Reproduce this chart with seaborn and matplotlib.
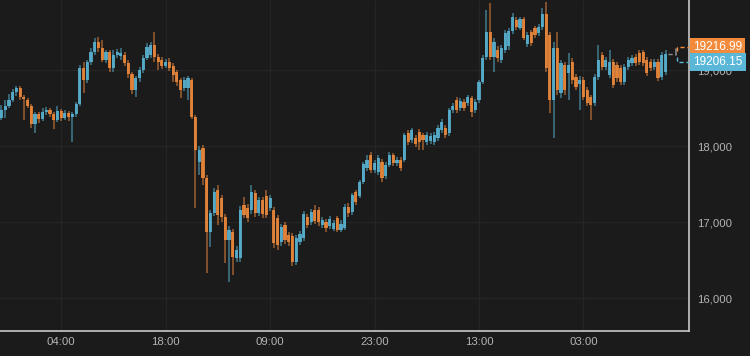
import numpy as np
import pandas as pd
import matplotlib
matplotlib.use("Agg")
import matplotlib.pyplot as plt
import matplotlib.ticker as mticker
import seaborn as sns

# 30 minute candles
opens = [
    18368, 18473, 18526, 18605, 18710, 18763, 18644, 18605, 18526, 18289,
    18421, 18355, 18447, 18473, 18421, 18342, 18460, 18368, 18434, 18381,
    18421, 18552, 19026, 18868, 19105, 19237, 19368, 19289, 19131, 19237,
    19026, 19197, 19184, 19197, 19092, 18947, 18737, 18895, 19000, 19158,
    19197, 19329, 19171, 19131, 19052, 19105, 19052, 18973, 18868, 18763,
    18763, 18868, 18381, 17789, 17973, 17579, 16868, 17118, 17421, 17315,
    17065, 16763, 16868, 16526, 16526, 17223, 17184, 17157, 17381, 17118,
    17289, 17342, 17184, 17157, 17052, 16736, 16960, 16828, 16815, 16473,
    16736, 16789, 17065, 17000, 17157, 17157, 16960, 17000, 16947, 16907,
    17052, 16894, 16921, 17197, 17131, 17394, 17342, 17526, 17710, 17881,
    17684, 17658, 17789, 17605, 17750, 17881, 17776, 17815, 17815, 18171,
    18079, 18105, 18184, 18144, 18052, 18066, 18052, 18105, 18210, 18237,
    18171, 18473, 18605, 18500, 18579, 18566, 18631, 18473, 18605, 18842,
    19171, 19500, 19171, 19263, 19131, 19263, 19316, 19513, 19658, 19553,
    19671, 19342, 19500, 19553, 19487, 19566, 19737, 19460, 18605, 19289,
    18697, 19066, 18960, 19105, 18908, 18816, 18868, 18737, 18644, 18566,
    18908, 19197, 19039, 18934, 19105, 19066, 19026, 18842, 19039, 19092,
    19171, 19223, 19237, 19131, 19105, 19039, 19105, 18908, 18973,
]
closes = [
    18473, 18526, 18605, 18710, 18763, 18644, 18618, 18526, 18289, 18421,
    18355, 18447, 18473, 18421, 18342, 18460, 18368, 18434, 18381, 18421,
    18552, 19026, 18868, 19105, 19237, 19368, 19289, 19131, 19237, 19026,
    19197, 19237, 19223, 19092, 18947, 18737, 18895, 19000, 19158, 19302,
    19329, 19171, 19105, 19052, 19105, 19026, 18934, 18842, 18737, 18868,
    18895, 18381, 17947, 17947, 17579, 16868, 17118, 17394, 17092, 17065,
    16763, 16894, 16539, 16631, 17157, 17092, 17052, 17394, 17118, 17289,
    17105, 17092, 17315, 16723, 16697, 16934, 16763, 16736, 16473, 16789,
    16842, 17105, 16960, 17131, 17013, 17000, 17026, 16921, 17039, 16986,
    16894, 16973, 17197, 17118, 17355, 17263, 17526, 17763, 17815, 17684,
    17776, 17842, 17579, 17750, 17881, 17776, 17815, 17710, 18144, 18052,
    18210, 18026, 18052, 18079, 18144, 18131, 18144, 18237, 18315, 18144,
    18473, 18526, 18473, 18592, 18500, 18644, 18447, 18579, 18842, 19158,
    19500, 19171, 19368, 19158, 19289, 19487, 19513, 19697, 19566, 19671,
    19421, 19460, 19355, 19460, 19566, 19737, 19026, 18605, 19289, 18737,
    19092, 18737, 19066, 18868, 18776, 18868, 18644, 18566, 18539, 18908,
    19131, 19039, 19131, 19105, 18802, 18895, 18842, 19039, 19131, 19158,
    19092, 19105, 19092, 18960, 19026, 19105, 18895, 19197, 19210,
]
highs = [
    18539, 18605, 18684, 18750, 18789, 18789, 18671, 18631, 18552, 18447,
    18447, 18500, 18513, 18500, 18447, 18526, 18487, 18473, 18460, 18447,
    18579, 19066, 19105, 19131, 19289, 19421, 19434, 19395, 19263, 19263,
    19263, 19276, 19289, 19237, 19131, 18973, 18921, 19039, 19197, 19355,
    19368, 19500, 19210, 19171, 19145, 19158, 19092, 19000, 18895, 18908,
    18921, 18895, 18408, 18000, 18013, 17618, 17157, 17447, 17486, 17355,
    17105, 16947, 16907, 16684, 17210, 17328, 17236, 17486, 17421, 17328,
    17328, 17421, 17355, 17197, 17092, 16973, 17000, 16868, 16855, 16828,
    16881, 17144, 17105, 17171, 17223, 17197, 17065, 17039, 17078, 17026,
    17078, 17026, 17236, 17250, 17381, 17421, 17552, 17789, 17881, 17921,
    17815, 17881, 17829, 17789, 17921, 17908, 17855, 17855, 18171, 18210,
    18237, 18144, 18223, 18171, 18184, 18171, 18184, 18276, 18355, 18276,
    18500, 18566, 18644, 18631, 18618, 18671, 18658, 18618, 18868, 19197,
    19789, 19882, 19421, 19316, 19329, 19526, 19553, 19750, 19697, 19697,
    19697, 19500, 19526, 19579, 19605, 19816, 19895, 19500, 19368, 19500,
    19131, 19105, 19223, 19158, 18947, 18921, 18908, 18776, 18671, 18947,
    19329, 19237, 19171, 19263, 19145, 19105, 19066, 19079, 19171, 19197,
    19210, 19263, 19263, 19171, 19145, 19145, 19145, 19237, 19263,
]
lows = [
    18342, 18368, 18500, 18579, 18658, 18605, 18342, 18500, 18237, 18171,
    18302, 18330, 18408, 18381, 18223, 18315, 18330, 18342, 18330, 18052,
    18381, 18526, 18697, 18829, 19066, 19197, 19237, 19105, 19092, 18973,
    18973, 19158, 19131, 19052, 18895, 18684, 18644, 18842, 18960, 19131,
    19158, 19105, 19000, 19013, 19026, 18987, 18842, 18789, 18631, 18724,
    18605, 18355, 17184, 17618, 17486, 16328, 16670, 17078, 16960, 17000,
    16460, 16210, 16302, 16473, 16473, 17052, 17000, 17105, 17065, 17078,
    17052, 17052, 17144, 16657, 16631, 16684, 16710, 16684, 16420, 16434,
    16697, 16749, 16921, 16960, 16973, 16947, 16921, 16868, 16907, 16881,
    16868, 16868, 16894, 17065, 17092, 17223, 17315, 17500, 17671, 17645,
    17645, 17618, 17526, 17566, 17723, 17736, 17736, 17671, 17789, 18013,
    18039, 17987, 17947, 17947, 18013, 18026, 18013, 18066, 18171, 18105,
    18131, 18434, 18434, 18460, 18460, 18526, 18381, 18434, 18566, 18816,
    19131, 19131, 18973, 19105, 19092, 19223, 19263, 19474, 19526, 19526,
    19395, 19302, 19316, 19421, 19447, 19526, 18973, 18434, 18105, 18671,
    18631, 18671, 18605, 18816, 18737, 18473, 18605, 18526, 18342, 18526,
    18868, 19000, 19000, 18895, 18763, 18842, 18802, 18802, 19000, 19052,
    19052, 19066, 19052, 18921, 18987, 19000, 18855, 18868, 18934,
]

tick_pos = [16, 44, 72, 100, 128, 156]
tick_labels = ["04:00", "18:00", "09:00", "23:00", "13:00", "03:00"]
y_ticks = [16000, 17000, 18000, 19000]

ask = 19216.99
bid = 19206.15

BG = "#1b1b1b"
ORANGE = "#f28c3c"
BLUE = "#5bb7d8"
GRID = "#252525"
TXT = "#b4b4b4"

sns.set_theme(style="dark", rc={
    "figure.facecolor": BG,
    "axes.facecolor": BG,
    "savefig.facecolor": BG,
})
plt.rcParams['font.family'] = ['Liberation Sans', 'DejaVu Sans']

df = pd.DataFrame({"open": opens, "close": closes, "high": highs, "low": lows})
df["i"] = np.arange(len(df))
df["up"] = df["close"] >= df["open"]
cols = np.where(df["up"], BLUE, ORANGE)

fig = plt.figure(figsize=(7.5, 3.56), dpi=100)
ax = fig.add_axes([0.0, 0.0702, 0.9187, 0.9298])

# wicks + bodies
ax.vlines(df["i"], df["low"], df["high"], colors=cols, linewidth=1.1, alpha=0.6, zorder=3)
body = np.maximum((df["close"] - df["open"]).abs(), 12)
ax.bar(df["i"], body, bottom=np.minimum(df["open"], df["close"]), width=0.85,
       color=cols, alpha=0.85, linewidth=0, zorder=4)

last = len(df) - 1
ax.plot([last + 0.6, last + 2.6], [closes[-1], closes[-1]], color="#8a8a8a",
        lw=1, ls=(0, (3, 2)), zorder=4)
ax.plot([last + 2.9, last + 2.9], [ask - 20, ask + 60], color="#8a8a8a", lw=1.2, zorder=4)
ax.plot([last + 3.2, last + 3.2, 184.3], [ask + 30, 19302, 19302], color=ORANGE,
        lw=1, ls=(0, (3, 2)), zorder=4, clip_on=False)
ax.plot([last + 3.2, last + 3.2, 184.3], [bid - 40, 19105, 19105], color=BLUE,
        lw=1, ls=(0, (3, 2)), zorder=4, clip_on=False)

ax.set_xlim(-0.4, 184.3)
ax.set_ylim(15566, 19921)

ax.set_xticks(tick_pos)
ax.set_xticklabels(tick_labels)
ax.set_yticks(y_ticks)
ax.yaxis.set_major_formatter(mticker.StrMethodFormatter("{x:,.0f}"))
ax.yaxis.tick_right()
ax.tick_params(axis="both", length=0, labelcolor=TXT, labelsize=8.2)
ax.tick_params(axis="y", pad=6)
ax.tick_params(axis="x", pad=4)

ax.grid(True, color=GRID, linewidth=0.9)
ax.set_axisbelow(True)
for s in ["left", "top"]:
    ax.spines[s].set_visible(False)
for s in ["right", "bottom"]:
    ax.spines[s].set_visible(True)
    ax.spines[s].set_color("#c8c8c8")
    ax.spines[s].set_linewidth(1.2)

# price tags at the right edge (they sit over the 19,000 label, as in the original)
ax.annotate(f"{ask:.2f}", xy=(1.0, ask), xycoords=("axes fraction", "data"),
            xytext=(3, 4.8), textcoords="offset points", ha="left", va="center",
            color="white", fontsize=8.5, annotation_clip=False, zorder=6,
            bbox=dict(boxstyle="square,pad=0.26", fc=ORANGE, ec="none"))
ax.annotate(f"{bid:.2f}", xy=(1.0, bid), xycoords=("axes fraction", "data"),
            xytext=(3, -5.6), textcoords="offset points", ha="left", va="center",
            color="white", fontsize=8.5, annotation_clip=False, zorder=6,
            bbox=dict(boxstyle="square,pad=0.26", fc=BLUE, ec="none"))

fig.savefig("out.png", dpi=100)
